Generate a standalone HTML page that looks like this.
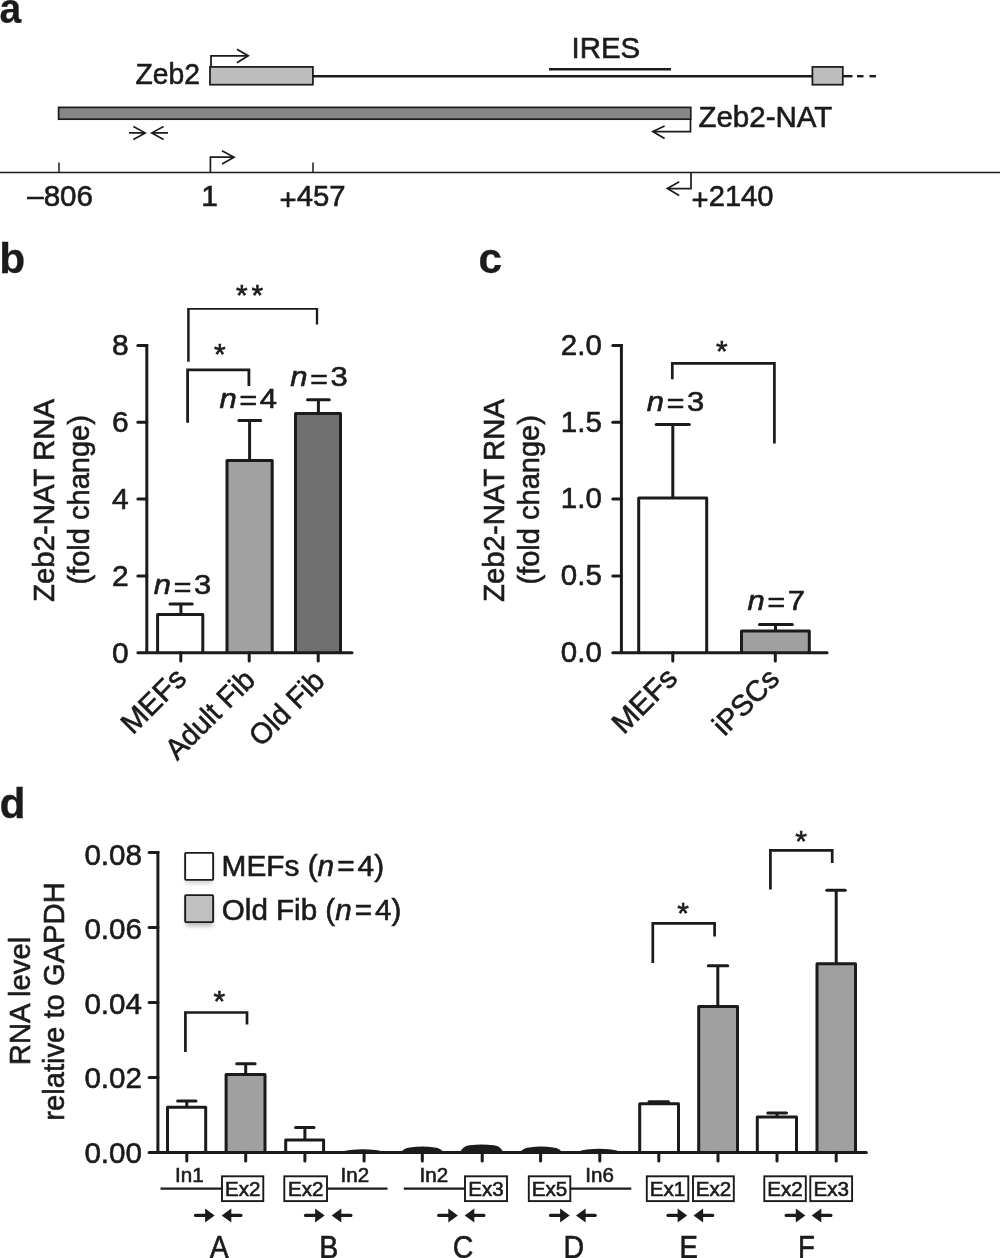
<!DOCTYPE html>
<html lang="en"><head><meta charset="utf-8"><title>Zeb2-NAT figure</title>
<style>
html,body{margin:0;padding:0;background:#fff;}
svg{display:block;}
text{font-family:"Liberation Sans",Arial,Helvetica,sans-serif;fill:#1c1a1b;stroke:#1c1a1b;stroke-width:0.6px;}
</style></head><body>
<svg width="1000" height="1258" viewBox="0 0 1000 1258">
<defs><filter id="sh" x="-30%" y="-30%" width="160%" height="160%"><feGaussianBlur stdDeviation="2"/></filter></defs>
<rect width="1000" height="1258" fill="#fff"/>
<text transform="translate(-0.4 22.7) scale(0.92 1)" font-size="42.5" text-anchor="start" font-weight="bold" style="stroke-width:0.2px">a</text>
<text transform="translate(-0.7 273) scale(1 1)" font-size="42.5" text-anchor="start" font-weight="bold" style="stroke-width:0.3px">b</text>
<text transform="translate(478.5 272.5) scale(1 1)" font-size="42.5" text-anchor="start" font-weight="bold" style="stroke-width:0.3px">c</text>
<text transform="translate(-0.5 817.9) scale(1 1)" font-size="42.5" text-anchor="start" font-weight="bold" style="stroke-width:0.3px">d</text>
<line x1="313" y1="76.2" x2="812" y2="76.2" stroke="#1c1a1b" stroke-width="2.4" stroke-linecap="butt" />
<rect x="210" y="66.9" width="102.9" height="17.8" fill="#bdbdbd" stroke="#1c1a1b" stroke-width="1.75" />
<rect x="812.4" y="66.9" width="30.4" height="17.8" fill="#bdbdbd" stroke="#1c1a1b" stroke-width="1.75" />
<line x1="843" y1="76.2" x2="852.5" y2="76.2" stroke="#1c1a1b" stroke-width="2.4" stroke-linecap="butt" />
<line x1="857" y1="76.2" x2="863.5" y2="76.2" stroke="#1c1a1b" stroke-width="2.4" stroke-linecap="butt" />
<line x1="869.5" y1="76.2" x2="876" y2="76.2" stroke="#1c1a1b" stroke-width="2.4" stroke-linecap="butt" />
<text transform="translate(135.6 83.9) scale(1.02 1)" font-size="29.4" text-anchor="start" font-weight="normal" textLength="63.14" lengthAdjust="spacingAndGlyphs" >Zeb2</text>
<path d="M211 66.5 V55.8 H247.6" fill="none" stroke="#1c1a1b" stroke-width="1.8" />
<path d="M236.9 49.3 L248.2 55.8 L236.9 62.7" fill="none" stroke="#1c1a1b" stroke-width="1.8" stroke-linejoin="miter"/>
<text transform="translate(571.6 57.6) scale(1.02 1)" font-size="29.4" text-anchor="start" font-weight="normal" textLength="67.25" lengthAdjust="spacingAndGlyphs" >IRES</text>
<line x1="549" y1="69.2" x2="671" y2="69.2" stroke="#1c1a1b" stroke-width="2.4" stroke-linecap="butt" />
<rect x="58.6" y="107.4" width="632.2" height="11.8" fill="#878787" stroke="#1c1a1b" stroke-width="1.7" />
<text transform="translate(698.4 126.8) scale(1.02 1)" font-size="29.4" text-anchor="start" font-weight="normal" textLength="131.37" lengthAdjust="spacingAndGlyphs" >Zeb2-NAT</text>
<path d="M690.5 119 V131.6 H653" fill="none" stroke="#1c1a1b" stroke-width="1.7" />
<path d="M664.6 126 L652.8 131.6 L664.6 138.4" fill="none" stroke="#1c1a1b" stroke-width="1.7" stroke-linejoin="miter"/>
<path d="M129 132.9 H145.3 M133.4 126.5 L145.3 132.9 L133.4 139.5" fill="none" stroke="#1c1a1b" stroke-width="1.6" />
<path d="M168 132.9 H151.7 M163.6 126.5 L151.7 132.9 L163.6 139.5" fill="none" stroke="#1c1a1b" stroke-width="1.6" />
<line x1="0" y1="172.6" x2="1000" y2="172.6" stroke="#1c1a1b" stroke-width="1.5" stroke-linecap="butt" />
<line x1="59" y1="162.5" x2="59" y2="172.6" stroke="#1c1a1b" stroke-width="1.5" stroke-linecap="butt" />
<line x1="313" y1="162.5" x2="313" y2="172.6" stroke="#1c1a1b" stroke-width="1.5" stroke-linecap="butt" />
<path d="M210.4 172.6 V157.2 H233.5" fill="none" stroke="#1c1a1b" stroke-width="1.7" />
<path d="M222 150.8 L234 157.2 L222 164" fill="none" stroke="#1c1a1b" stroke-width="1.7" stroke-linejoin="miter"/>
<path d="M691 172.6 V188.6 H668" fill="none" stroke="#1c1a1b" stroke-width="1.7" />
<path d="M679.2 181.8 L667.4 188.6 L679.2 195.4" fill="none" stroke="#1c1a1b" stroke-width="1.7" stroke-linejoin="miter"/>
<text transform="translate(27.2 206.2) scale(1.02 1)" font-size="29.4" text-anchor="start" font-weight="normal" textLength="64.51" lengthAdjust="spacingAndGlyphs" >–806</text>
<text transform="translate(201.2 206.2) scale(1.02 1)" font-size="29.4" text-anchor="start" font-weight="normal" >1</text>
<text transform="translate(279.6 206.2) scale(1.02 1)" font-size="29.4" text-anchor="start" font-weight="normal" textLength="64.71" lengthAdjust="spacingAndGlyphs" ><tspan dy="3.3">+</tspan><tspan dy="-3.3">457</tspan></text>
<text transform="translate(691.6 206.2) scale(1.02 1)" font-size="29.4" text-anchor="start" font-weight="normal" textLength="80.39" lengthAdjust="spacingAndGlyphs" ><tspan dy="3.3">+</tspan><tspan dy="-3.3">2140</tspan></text>
<path d="M157.6 652.7 V614.5 H202.8 V652.7" fill="#fff" stroke="#1c1a1b" stroke-width="3.0" stroke-linejoin="round"/>
<line x1="180.9" y1="603.9" x2="180.9" y2="614" stroke="#1c1a1b" stroke-width="3.0" stroke-linecap="butt" />
<line x1="170.0" y1="603.9" x2="192.2" y2="603.9" stroke="#1c1a1b" stroke-width="3.0" stroke-linecap="round" />
<path d="M227.0 652.7 V460.5 H272.2 V652.7" fill="#a1a1a1" stroke="#1c1a1b" stroke-width="3.0" stroke-linejoin="round"/>
<line x1="249.6" y1="420.5" x2="249.6" y2="460" stroke="#1c1a1b" stroke-width="3.0" stroke-linecap="butt" />
<line x1="238.9" y1="420.5" x2="260.7" y2="420.5" stroke="#1c1a1b" stroke-width="3.0" stroke-linecap="round" />
<path d="M295.5 652.7 V413.5 H340.5 V652.7" fill="#707070" stroke="#1c1a1b" stroke-width="3.0" stroke-linejoin="round"/>
<line x1="318.4" y1="399.7" x2="318.4" y2="413" stroke="#1c1a1b" stroke-width="3.0" stroke-linecap="butt" />
<line x1="307.5" y1="399.7" x2="329.3" y2="399.7" stroke="#1c1a1b" stroke-width="3.0" stroke-linecap="round" />
<line x1="146.8" y1="343.9" x2="146.8" y2="652.7" stroke="#1c1a1b" stroke-width="3.0" stroke-linecap="butt" />
<line x1="137.9" y1="652.7" x2="352.0" y2="652.7" stroke="#1c1a1b" stroke-width="3.0" stroke-linecap="round" />
<text transform="translate(128.6 663.3000000000001) scale(1.02 1)" font-size="29.4" text-anchor="end" font-weight="normal" >0</text>
<line x1="137.9" y1="575.875" x2="146.8" y2="575.875" stroke="#1c1a1b" stroke-width="3.0" stroke-linecap="round" />
<text transform="translate(128.6 586.1500000000001) scale(1.02 1)" font-size="29.4" text-anchor="end" font-weight="normal" >2</text>
<line x1="137.9" y1="499.05" x2="146.8" y2="499.05" stroke="#1c1a1b" stroke-width="3.0" stroke-linecap="round" />
<text transform="translate(128.6 509.0) scale(1.02 1)" font-size="29.4" text-anchor="end" font-weight="normal" >4</text>
<line x1="137.9" y1="422.225" x2="146.8" y2="422.225" stroke="#1c1a1b" stroke-width="3.0" stroke-linecap="round" />
<text transform="translate(128.6 431.84999999999997) scale(1.02 1)" font-size="29.4" text-anchor="end" font-weight="normal" >6</text>
<line x1="137.9" y1="345.4" x2="146.8" y2="345.4" stroke="#1c1a1b" stroke-width="3.0" stroke-linecap="round" />
<text transform="translate(128.6 354.7) scale(1.02 1)" font-size="29.4" text-anchor="end" font-weight="normal" >8</text>
<line x1="180.8" y1="652.7" x2="180.8" y2="661.0" stroke="#1c1a1b" stroke-width="3.0" stroke-linecap="round" />
<line x1="249.2" y1="652.7" x2="249.2" y2="661.0" stroke="#1c1a1b" stroke-width="3.0" stroke-linecap="round" />
<line x1="318.2" y1="652.7" x2="318.2" y2="661.0" stroke="#1c1a1b" stroke-width="3.0" stroke-linecap="round" />
<text transform="translate(153.8 594.4) scale(1.115 1)" font-size="27.8" text-anchor="start"><tspan font-style="italic">n</tspan><tspan dx="2.2" dy="2.4" style="stroke-width:0.35px">=</tspan><tspan dx="2.2" dy="-2.4">3</tspan></text>
<text transform="translate(219.5 407.6) scale(1.115 1)" font-size="27.8" text-anchor="start"><tspan font-style="italic">n</tspan><tspan dx="2.2" dy="2.4" style="stroke-width:0.35px">=</tspan><tspan dx="2.2" dy="-2.4">4</tspan></text>
<text transform="translate(290.2 386.3) scale(1.115 1)" font-size="27.8" text-anchor="start"><tspan font-style="italic">n</tspan><tspan dx="2.2" dy="2.4" style="stroke-width:0.35px">=</tspan><tspan dx="2.2" dy="-2.4">3</tspan></text>
<path d="M187.6 422.8 V369.9 H248.9 V385.9" fill="none" stroke="#1c1a1b" stroke-width="2.8" stroke-linejoin="miter"/>
<line x1="187.2" y1="308.8" x2="318.1" y2="308.8" stroke="#1c1a1b" stroke-width="1.8" stroke-linecap="butt" />
<line x1="188.4" y1="308.8" x2="188.4" y2="361.7" stroke="#1c1a1b" stroke-width="2.5" stroke-linecap="butt" />
<line x1="317" y1="308.8" x2="317" y2="324.5" stroke="#1c1a1b" stroke-width="2.3" stroke-linecap="butt" />
<text transform="translate(219.9 364.1) scale(1.02 1)" font-size="29.4" text-anchor="middle" font-weight="normal" >*</text>
<text transform="translate(241.9 304.5) scale(1.02 1)" font-size="29.4" text-anchor="middle" font-weight="normal" >*</text>
<text transform="translate(257.25 304.5) scale(1.02 1)" font-size="29.4" text-anchor="middle" font-weight="normal" >*</text>
<text font-size="29.4" text-anchor="end" transform="translate(188 680.2) rotate(-45) scale(1.02 1)">MEFs</text>
<text font-size="29.4" text-anchor="end" textLength="112.5" lengthAdjust="spacingAndGlyphs" transform="translate(256.7 681.7) rotate(-45)">Adult Fib</text>
<text font-size="29.4" text-anchor="end" textLength="92.3" lengthAdjust="spacingAndGlyphs" transform="translate(326.3 682.4) rotate(-45)">Old Fib</text>
<text font-size="29.4" text-anchor="middle" transform="translate(54 500.5) rotate(-90)" textLength="203" lengthAdjust="spacingAndGlyphs">Zeb2-NAT RNA</text>
<text font-size="29.4" text-anchor="middle" transform="translate(89 499.8) rotate(-90)" textLength="169.5" lengthAdjust="spacingAndGlyphs">(fold change)</text>
<path d="M638.7 652.7 V498 H706.7 V652.7" fill="#fff" stroke="#1c1a1b" stroke-width="3.0" stroke-linejoin="round"/>
<line x1="672.8" y1="424.5" x2="672.8" y2="497.5" stroke="#1c1a1b" stroke-width="3.0" stroke-linecap="butt" />
<line x1="656.2" y1="424.5" x2="689.3" y2="424.5" stroke="#1c1a1b" stroke-width="3.0" stroke-linecap="round" />
<path d="M741.5 652.7 V631 H809.3 V652.7" fill="#a0a0a0" stroke="#1c1a1b" stroke-width="3.0" stroke-linejoin="round"/>
<line x1="775.5" y1="624.5" x2="775.5" y2="630.5" stroke="#1c1a1b" stroke-width="3.0" stroke-linecap="butt" />
<line x1="759.5" y1="624.5" x2="792.3" y2="624.5" stroke="#1c1a1b" stroke-width="3.0" stroke-linecap="round" />
<line x1="621.4" y1="343.9" x2="621.4" y2="652.7" stroke="#1c1a1b" stroke-width="3.0" stroke-linecap="butt" />
<line x1="612.8" y1="652.7" x2="827.0" y2="652.7" stroke="#1c1a1b" stroke-width="3.0" stroke-linecap="round" />
<text transform="translate(601.8 662.0) scale(1.02 1)" font-size="29.4" text-anchor="end" font-weight="normal" textLength="40.20" lengthAdjust="spacingAndGlyphs" >0.0</text>
<line x1="612.8" y1="575.875" x2="621.4" y2="575.875" stroke="#1c1a1b" stroke-width="3.0" stroke-linecap="round" />
<text transform="translate(601.8 585.2) scale(1.02 1)" font-size="29.4" text-anchor="end" font-weight="normal" textLength="40.20" lengthAdjust="spacingAndGlyphs" >0.5</text>
<line x1="612.8" y1="499.05" x2="621.4" y2="499.05" stroke="#1c1a1b" stroke-width="3.0" stroke-linecap="round" />
<text transform="translate(601.8 508.3999999999999) scale(1.02 1)" font-size="29.4" text-anchor="end" font-weight="normal" textLength="40.20" lengthAdjust="spacingAndGlyphs" >1.0</text>
<line x1="612.8" y1="422.225" x2="621.4" y2="422.225" stroke="#1c1a1b" stroke-width="3.0" stroke-linecap="round" />
<text transform="translate(601.8 431.59999999999997) scale(1.02 1)" font-size="29.4" text-anchor="end" font-weight="normal" textLength="40.20" lengthAdjust="spacingAndGlyphs" >1.5</text>
<line x1="612.8" y1="345.4" x2="621.4" y2="345.4" stroke="#1c1a1b" stroke-width="3.0" stroke-linecap="round" />
<text transform="translate(601.8 354.79999999999995) scale(1.02 1)" font-size="29.4" text-anchor="end" font-weight="normal" textLength="40.20" lengthAdjust="spacingAndGlyphs" >2.0</text>
<line x1="672.8" y1="652.7" x2="672.8" y2="661.0" stroke="#1c1a1b" stroke-width="3.0" stroke-linecap="round" />
<line x1="775.3" y1="652.7" x2="775.3" y2="661.0" stroke="#1c1a1b" stroke-width="3.0" stroke-linecap="round" />
<text transform="translate(646.8 411) scale(1.115 1)" font-size="27.8" text-anchor="start"><tspan font-style="italic">n</tspan><tspan dx="2.2" dy="2.4" style="stroke-width:0.35px">=</tspan><tspan dx="2.2" dy="-2.4">3</tspan></text>
<text transform="translate(747.5 610) scale(1.115 1)" font-size="27.8" text-anchor="start"><tspan font-style="italic">n</tspan><tspan dx="2.2" dy="2.4" style="stroke-width:0.35px">=</tspan><tspan dx="2.2" dy="-2.4">7</tspan></text>
<path d="M672.3 379.2 V363.4 H774.4 V443.6" fill="none" stroke="#1c1a1b" stroke-width="2.7" stroke-linejoin="miter"/>
<text transform="translate(721.9 360.8) scale(1.02 1)" font-size="29.4" text-anchor="middle" font-weight="normal" >*</text>
<text font-size="29.4" text-anchor="end" transform="translate(679 679.8) rotate(-45) scale(1.02 1)">MEFs</text>
<text font-size="29.4" text-anchor="end" textLength="80" lengthAdjust="spacingAndGlyphs" transform="translate(781 680.5) rotate(-45)">iPSCs</text>
<text font-size="29.4" text-anchor="middle" transform="translate(504 500.5) rotate(-90)" textLength="203" lengthAdjust="spacingAndGlyphs">Zeb2-NAT RNA</text>
<text font-size="29.4" text-anchor="middle" transform="translate(539 499.8) rotate(-90)" textLength="169.5" lengthAdjust="spacingAndGlyphs">(fold change)</text>
<path d="M167.5 1152.6 V1107.2 H205.7 V1152.6" fill="#fff" stroke="#1c1a1b" stroke-width="3.0" stroke-linejoin="round"/>
<line x1="186.8" y1="1101" x2="186.8" y2="1107" stroke="#1c1a1b" stroke-width="3.0" stroke-linecap="butt" />
<line x1="177.6" y1="1101" x2="196.0" y2="1101" stroke="#1c1a1b" stroke-width="3.0" stroke-linecap="round" />
<path d="M226.1 1152.6 V1074.5 H265.0 V1152.6" fill="#a0a0a0" stroke="#1c1a1b" stroke-width="3.0" stroke-linejoin="round"/>
<line x1="245.7" y1="1063.7" x2="245.7" y2="1074" stroke="#1c1a1b" stroke-width="3.0" stroke-linecap="butt" />
<line x1="236.7" y1="1063.7" x2="255.10000000000002" y2="1063.7" stroke="#1c1a1b" stroke-width="3.0" stroke-linecap="round" />
<path d="M285.7 1152.6 V1140 H323.6 V1152.6" fill="#fff" stroke="#1c1a1b" stroke-width="3.0" stroke-linejoin="round"/>
<line x1="304.9" y1="1127.4" x2="304.9" y2="1139.5" stroke="#1c1a1b" stroke-width="3.0" stroke-linecap="butt" />
<line x1="295.6" y1="1127.4" x2="314.0" y2="1127.4" stroke="#1c1a1b" stroke-width="3.0" stroke-linecap="round" />
<path d="M341 1152.6 Q343 1150.7 350 1150.0 Q362.75 1148.4 375.5 1150.0 Q382.5 1150.7 384.5 1152.6Z" fill="#1c1a1b"/>
<path d="M401 1152.6 Q403 1148.1 410 1147.3999999999999 Q422.3 1145.8 434.6 1147.3999999999999 Q441.6 1148.1 443.6 1152.6Z" fill="#1c1a1b"/>
<path d="M460.4 1152.6 Q462.4 1146.0 469.4 1145.3 Q481.7 1143.7 494 1145.3 Q501 1146.0 503 1152.6Z" fill="#1c1a1b"/>
<path d="M520.1 1152.6 Q522.1 1148.1 529.1 1147.3999999999999 Q541.1 1145.8 553.1 1147.3999999999999 Q560.1 1148.1 562.1 1152.6Z" fill="#1c1a1b"/>
<path d="M578 1152.6 Q580 1150.3 587 1149.6 Q599.0 1148.0 611 1149.6 Q618 1150.3 620 1152.6Z" fill="#1c1a1b"/>
<path d="M639.7 1152.6 V1103.8 H678.5 V1152.6" fill="#fff" stroke="#1c1a1b" stroke-width="3.0" stroke-linejoin="round"/>
<line x1="658.8" y1="1101.8" x2="658.8" y2="1103" stroke="#1c1a1b" stroke-width="3" stroke-linecap="butt" />
<line x1="649.0" y1="1101.8" x2="668.5" y2="1101.8" stroke="#1c1a1b" stroke-width="3" stroke-linecap="round" />
<path d="M698.7 1152.6 V1006.5 H737.5 V1152.6" fill="#a0a0a0" stroke="#1c1a1b" stroke-width="3.0" stroke-linejoin="round"/>
<line x1="717.8" y1="965.8" x2="717.8" y2="1006" stroke="#1c1a1b" stroke-width="3.0" stroke-linecap="butt" />
<line x1="708.3" y1="965.8" x2="727.7" y2="965.8" stroke="#1c1a1b" stroke-width="3.0" stroke-linecap="round" />
<path d="M757.3 1152.6 V1117 H796.5 V1152.6" fill="#fff" stroke="#1c1a1b" stroke-width="3.0" stroke-linejoin="round"/>
<line x1="777" y1="1113" x2="777" y2="1116.5" stroke="#1c1a1b" stroke-width="3.0" stroke-linecap="butt" />
<line x1="767.8" y1="1113" x2="786.5" y2="1113" stroke="#1c1a1b" stroke-width="3.0" stroke-linecap="round" />
<path d="M817.0 1152.6 V963.8 H855.5 V1152.6" fill="#a0a0a0" stroke="#1c1a1b" stroke-width="3.0" stroke-linejoin="round"/>
<line x1="836.2" y1="890.2" x2="836.2" y2="963" stroke="#1c1a1b" stroke-width="3.0" stroke-linecap="butt" />
<line x1="826.8" y1="890.2" x2="845.3" y2="890.2" stroke="#1c1a1b" stroke-width="3.0" stroke-linecap="round" />
<line x1="157.9" y1="851.1" x2="157.9" y2="1152.6" stroke="#1c1a1b" stroke-width="3.0" stroke-linecap="butt" />
<line x1="149.1" y1="1152.6" x2="866.3" y2="1152.6" stroke="#1c1a1b" stroke-width="3.0" stroke-linecap="round" />
<text transform="translate(142 1162.6000000000001) scale(1.02 1)" font-size="29.4" text-anchor="end" font-weight="normal" textLength="56.47" lengthAdjust="spacingAndGlyphs" >0.00</text>
<line x1="149.1" y1="1077.6" x2="157.9" y2="1077.6" stroke="#1c1a1b" stroke-width="3.0" stroke-linecap="round" />
<text transform="translate(142 1088.1000000000001) scale(1.02 1)" font-size="29.4" text-anchor="end" font-weight="normal" textLength="56.47" lengthAdjust="spacingAndGlyphs" >0.02</text>
<line x1="149.1" y1="1002.5999999999999" x2="157.9" y2="1002.5999999999999" stroke="#1c1a1b" stroke-width="3.0" stroke-linecap="round" />
<text transform="translate(142 1013.6000000000001) scale(1.02 1)" font-size="29.4" text-anchor="end" font-weight="normal" textLength="56.47" lengthAdjust="spacingAndGlyphs" >0.04</text>
<line x1="149.1" y1="927.6" x2="157.9" y2="927.6" stroke="#1c1a1b" stroke-width="3.0" stroke-linecap="round" />
<text transform="translate(142 939.1000000000001) scale(1.02 1)" font-size="29.4" text-anchor="end" font-weight="normal" textLength="56.47" lengthAdjust="spacingAndGlyphs" >0.06</text>
<line x1="149.1" y1="852.6" x2="157.9" y2="852.6" stroke="#1c1a1b" stroke-width="3.0" stroke-linecap="round" />
<text transform="translate(142 864.6000000000001) scale(1.02 1)" font-size="29.4" text-anchor="end" font-weight="normal" textLength="56.47" lengthAdjust="spacingAndGlyphs" >0.08</text>
<line x1="186.8" y1="1152.6" x2="186.8" y2="1160.8999999999999" stroke="#1c1a1b" stroke-width="3.0" stroke-linecap="round" />
<line x1="245.7" y1="1152.6" x2="245.7" y2="1160.8999999999999" stroke="#1c1a1b" stroke-width="3.0" stroke-linecap="round" />
<line x1="304.9" y1="1152.6" x2="304.9" y2="1160.8999999999999" stroke="#1c1a1b" stroke-width="3.0" stroke-linecap="round" />
<line x1="364.1" y1="1152.6" x2="364.1" y2="1160.8999999999999" stroke="#1c1a1b" stroke-width="3.0" stroke-linecap="round" />
<line x1="422.3" y1="1152.6" x2="422.3" y2="1160.8999999999999" stroke="#1c1a1b" stroke-width="3.0" stroke-linecap="round" />
<line x1="482.2" y1="1152.6" x2="482.2" y2="1160.8999999999999" stroke="#1c1a1b" stroke-width="3.0" stroke-linecap="round" />
<line x1="540.6" y1="1152.6" x2="540.6" y2="1160.8999999999999" stroke="#1c1a1b" stroke-width="3.0" stroke-linecap="round" />
<line x1="599.8" y1="1152.6" x2="599.8" y2="1160.8999999999999" stroke="#1c1a1b" stroke-width="3.0" stroke-linecap="round" />
<line x1="658.8" y1="1152.6" x2="658.8" y2="1160.8999999999999" stroke="#1c1a1b" stroke-width="3.0" stroke-linecap="round" />
<line x1="718" y1="1152.6" x2="718" y2="1160.8999999999999" stroke="#1c1a1b" stroke-width="3.0" stroke-linecap="round" />
<line x1="777" y1="1152.6" x2="777" y2="1160.8999999999999" stroke="#1c1a1b" stroke-width="3.0" stroke-linecap="round" />
<line x1="836.2" y1="1152.6" x2="836.2" y2="1160.8999999999999" stroke="#1c1a1b" stroke-width="3.0" stroke-linecap="round" />
<path d="M185.4 1052 V1012.5 H247 V1024.5" fill="none" stroke="#1c1a1b" stroke-width="2.7" stroke-linejoin="miter"/>
<text transform="translate(219.4 1010.7) scale(1.02 1)" font-size="29.4" text-anchor="middle" font-weight="normal" >*</text>
<path d="M652.8 963 V923.3 H714.6 V936.4" fill="none" stroke="#1c1a1b" stroke-width="2.7" stroke-linejoin="miter"/>
<text transform="translate(683 922.7) scale(1.02 1)" font-size="29.4" text-anchor="middle" font-weight="normal" >*</text>
<path d="M770.4 889.6 V850.4 H832.2 V863" fill="none" stroke="#1c1a1b" stroke-width="2.7" stroke-linejoin="miter"/>
<text transform="translate(801.2 851.2) scale(1.02 1)" font-size="29.4" text-anchor="middle" font-weight="normal" >*</text>
<rect x="186" y="858" width="26.5" height="26" fill="#000" opacity="0.16" filter="url(#sh)"/>
<rect x="185.15" y="852.85" width="28" height="27" fill="#fff" stroke="#1c1a1b" stroke-width="1.9" rx="0.8"/>
<rect x="186" y="900.3" width="26.5" height="26" fill="#000" opacity="0.28" filter="url(#sh)"/>
<rect x="185.15" y="895.15" width="28" height="27" fill="#c0c0c0" stroke="#1c1a1b" stroke-width="1.9" rx="0.8"/>
<text x="221.6" y="875.8" font-size="29.4" textLength="162.5" lengthAdjust="spacingAndGlyphs">MEFs (<tspan font-style="italic">n</tspan><tspan dx="3">=</tspan><tspan dx="3">4)</tspan></text>
<text x="221.8" y="919.6" font-size="29.4" textLength="179.5" lengthAdjust="spacingAndGlyphs">Old Fib (<tspan font-style="italic">n</tspan><tspan dx="3">=</tspan><tspan dx="3">4)</tspan></text>
<text font-size="29.4" text-anchor="middle" transform="translate(29.8 1001) rotate(-90)" textLength="128.5" lengthAdjust="spacingAndGlyphs">RNA level</text>
<text font-size="29.4" text-anchor="middle" transform="translate(64 1001.5) rotate(-90)" textLength="238.5" lengthAdjust="spacingAndGlyphs">relative to GAPDH</text>
<line x1="160.5" y1="1188.6" x2="222" y2="1188.6" stroke="#1c1a1b" stroke-width="2.3" stroke-linecap="butt" />
<text transform="translate(189.3 1182) scale(1.02 1)" font-size="20.2" text-anchor="middle" font-weight="normal" >In1</text>
<rect x="222.0" y="1176.3" width="41.30000000000001" height="24.8" fill="#fff" stroke="#1c1a1b" stroke-width="1.9" />
<text transform="translate(242.65 1195.6) scale(1.02 1)" font-size="20.2" text-anchor="middle" font-weight="normal" >Ex2</text>
<path d="M195.5 1215.4 H207.7" stroke="#1c1a1b" stroke-width="3.2" stroke-linecap="round" fill="none"/>
<path d="M214.7 1215.4 L205.1 1208.4 V1222.4Z" fill="#1c1a1b"/>
<path d="M240.89999999999998 1215.4 H228.7" stroke="#1c1a1b" stroke-width="3.2" stroke-linecap="round" fill="none"/>
<path d="M221.7 1215.4 L231.29999999999998 1208.4 V1222.4Z" fill="#1c1a1b"/>
<text transform="translate(219.3 1257.7) scale(0.92 1)" font-size="31" text-anchor="middle" font-weight="normal" >A</text>
<rect x="284.3" y="1176.3" width="42.69999999999999" height="24.8" fill="#fff" stroke="#1c1a1b" stroke-width="1.9" />
<text transform="translate(305.65 1195.6) scale(1.02 1)" font-size="20.2" text-anchor="middle" font-weight="normal" >Ex2</text>
<line x1="327.5" y1="1188.6" x2="387.5" y2="1188.6" stroke="#1c1a1b" stroke-width="2.3" stroke-linecap="butt" />
<text transform="translate(354.8 1182) scale(1.02 1)" font-size="20.2" text-anchor="middle" font-weight="normal" >In2</text>
<path d="M305.5 1215.4 H317.7" stroke="#1c1a1b" stroke-width="3.2" stroke-linecap="round" fill="none"/>
<path d="M324.7 1215.4 L315.09999999999997 1208.4 V1222.4Z" fill="#1c1a1b"/>
<path d="M350.9 1215.4 H338.7" stroke="#1c1a1b" stroke-width="3.2" stroke-linecap="round" fill="none"/>
<path d="M331.7 1215.4 L341.3 1208.4 V1222.4Z" fill="#1c1a1b"/>
<text transform="translate(328.8 1257.7) scale(0.92 1)" font-size="31" text-anchor="middle" font-weight="normal" >B</text>
<line x1="403.8" y1="1188.6" x2="464.5" y2="1188.6" stroke="#1c1a1b" stroke-width="2.3" stroke-linecap="butt" />
<text transform="translate(433.8 1182) scale(1.02 1)" font-size="20.2" text-anchor="middle" font-weight="normal" >In2</text>
<rect x="465.0" y="1176.3" width="42.0" height="24.8" fill="#fff" stroke="#1c1a1b" stroke-width="1.9" />
<text transform="translate(486.0 1195.6) scale(1.02 1)" font-size="20.2" text-anchor="middle" font-weight="normal" >Ex3</text>
<path d="M438.7 1215.4 H450.9" stroke="#1c1a1b" stroke-width="3.2" stroke-linecap="round" fill="none"/>
<path d="M457.9 1215.4 L448.29999999999995 1208.4 V1222.4Z" fill="#1c1a1b"/>
<path d="M483.9 1215.4 H471.7" stroke="#1c1a1b" stroke-width="3.2" stroke-linecap="round" fill="none"/>
<path d="M464.7 1215.4 L474.3 1208.4 V1222.4Z" fill="#1c1a1b"/>
<text transform="translate(463 1257.7) scale(0.92 1)" font-size="31" text-anchor="middle" font-weight="normal" >C</text>
<rect x="528.8" y="1176.3" width="41.5" height="24.8" fill="#fff" stroke="#1c1a1b" stroke-width="1.9" />
<text transform="translate(549.55 1195.6) scale(1.02 1)" font-size="20.2" text-anchor="middle" font-weight="normal" >Ex5</text>
<line x1="570.8" y1="1188.6" x2="631.3" y2="1188.6" stroke="#1c1a1b" stroke-width="2.3" stroke-linecap="butt" />
<text transform="translate(599.6 1182) scale(1.02 1)" font-size="20.2" text-anchor="middle" font-weight="normal" >In6</text>
<path d="M550.5 1215.4 H562.7" stroke="#1c1a1b" stroke-width="3.2" stroke-linecap="round" fill="none"/>
<path d="M569.7 1215.4 L560.1 1208.4 V1222.4Z" fill="#1c1a1b"/>
<path d="M595.2 1215.4 H583.0" stroke="#1c1a1b" stroke-width="3.2" stroke-linecap="round" fill="none"/>
<path d="M576.0 1215.4 L585.6 1208.4 V1222.4Z" fill="#1c1a1b"/>
<text transform="translate(573.8 1257.7) scale(0.92 1)" font-size="31" text-anchor="middle" font-weight="normal" >D</text>
<rect x="646.8" y="1176.3" width="41.5" height="24.8" fill="#fff" stroke="#1c1a1b" stroke-width="1.9" />
<text transform="translate(667.55 1195.6) scale(1.02 1)" font-size="20.2" text-anchor="middle" font-weight="normal" >Ex1</text>
<rect x="693.0" y="1176.3" width="40.799999999999955" height="24.8" fill="#fff" stroke="#1c1a1b" stroke-width="1.9" />
<text transform="translate(713.4 1195.6) scale(1.02 1)" font-size="20.2" text-anchor="middle" font-weight="normal" >Ex2</text>
<path d="M668.0 1215.4 H680.2" stroke="#1c1a1b" stroke-width="3.2" stroke-linecap="round" fill="none"/>
<path d="M687.2 1215.4 L677.6 1208.4 V1222.4Z" fill="#1c1a1b"/>
<path d="M712.7 1215.4 H700.5" stroke="#1c1a1b" stroke-width="3.2" stroke-linecap="round" fill="none"/>
<path d="M693.5 1215.4 L703.1 1208.4 V1222.4Z" fill="#1c1a1b"/>
<text transform="translate(688.6 1257.7) scale(0.89 1)" font-size="31" text-anchor="middle" font-weight="normal" >E</text>
<rect x="764.3" y="1176.3" width="41.5" height="24.8" fill="#fff" stroke="#1c1a1b" stroke-width="1.9" />
<text transform="translate(785.05 1195.6) scale(1.02 1)" font-size="20.2" text-anchor="middle" font-weight="normal" >Ex2</text>
<rect x="810.3" y="1176.3" width="41.80000000000007" height="24.8" fill="#fff" stroke="#1c1a1b" stroke-width="1.9" />
<text transform="translate(831.2 1195.6) scale(1.02 1)" font-size="20.2" text-anchor="middle" font-weight="normal" >Ex3</text>
<path d="M786.1999999999999 1215.4 H798.4" stroke="#1c1a1b" stroke-width="3.2" stroke-linecap="round" fill="none"/>
<path d="M805.4 1215.4 L795.8 1208.4 V1222.4Z" fill="#1c1a1b"/>
<path d="M830.9000000000001 1215.4 H818.7" stroke="#1c1a1b" stroke-width="3.2" stroke-linecap="round" fill="none"/>
<path d="M811.7 1215.4 L821.3000000000001 1208.4 V1222.4Z" fill="#1c1a1b"/>
<text transform="translate(806.3 1257.7) scale(0.89 1)" font-size="31" text-anchor="middle" font-weight="normal" >F</text>
</svg>
</body></html>
